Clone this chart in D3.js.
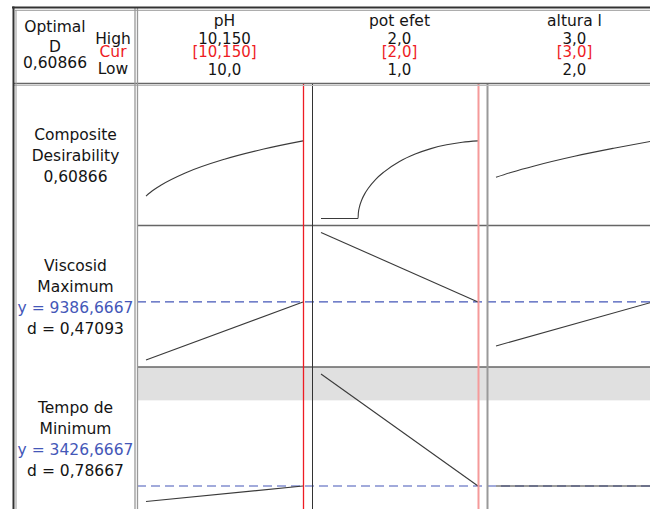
<!DOCTYPE html>
<html>
<head>
<meta charset="utf-8">
<script src="https://cdn.jsdelivr.net/npm/d3@7"></script>
<style>
  body { margin: 0; background: #fff; }
  svg { display: block; font-family: "DejaVu Sans", Verdana, sans-serif; }
</style>
</head>
<body>
<svg id="chart" width="650" height="509"></svg>
<script>
// ---- Factors (columns) ----
const factorNames = ["pH", "pot efet", "altura l"];
const factorLow = [10.0, 1.0, 2.0];
const factorHigh = [10.15, 2.0, 3.0];
const factorCur = [10.15, 2.0, 3.0];
const factorHighLabels = ["10,150", "2,0", "3,0"];
const factorCurLabels = ["[10,150]", "[2,0]", "[3,0]"];
const factorLowLabels = ["10,0", "1,0", "2,0"];

// ---- Composite desirability traces, one per factor ----
const compositeD = 0.60866;
const compositePHx = [10.0, 10.00375, 10.0075, 10.015, 10.0375, 10.075, 10.1125, 10.15];
const compositePH = [0.176, 0.202, 0.226, 0.265, 0.357, 0.465, 0.545, 0.60866];
const compositePotX = [1.0, 1.236, 1.238, 1.245, 1.26, 1.28, 1.30, 1.35, 1.40, 1.50, 1.60, 1.70, 1.80, 1.90, 2.0];
const compositePot = [0, 0, 0.045, 0.091, 0.147, 0.197, 0.235, 0.309, 0.364, 0.447, 0.505, 0.548, 0.578, 0.598, 0.60866];
const compositeAltX = [2.0, 2.1, 2.25, 2.5, 2.75, 3.0];
const compositeAlt = [0.324, 0.363, 0.414, 0.488, 0.551, 0.60866];

// ---- Viscosity (maximize): predicted value at factor low / high ----
const viscosityCur = 9386.6667;
const viscosityDesir = 0.47093;
const viscosityAtLow = [8226.67, 10772.67, 8506.67];
const viscosityAtHigh = [9386.6667, 9386.6667, 9386.6667];

// ---- Tempo (minimize): predicted value at factor low / high ----
const tempoCur = 3426.6667;
const tempoDesir = 0.78667;
const tempoAtLow = [3272.67, 4542.67, 3426.6667];
const tempoAtHigh = [3426.6667, 3426.6667, 3426.6667];
const tempoUpper = 4280;

// ---- Layout ----
const W = 650, H = 509;
const frameL = 14, frameT = 8;
const labelCx = 75.5;
const headerBottom = 84;
const colX0 = 137, colW = 175;
const rowTops = [84, 225.5, 367];
const rowH = 141.5;
const padX = 9, padY = 7;
const txt = "#141414", red = "#ee1c24", blue = "#4457b8", traceColor = "#3a3a3a";

const commaFmt = (f) => (v) => d3.format(f)(v).replace(".", ",");
const fmt4 = commaFmt(".4f"), fmt5 = commaFmt(".5f");

const svg = d3.select("#chart");
svg.append("rect").attr("width", W).attr("height", H).attr("fill", "#fff");

const xScales = factorNames.map((_, i) =>
  d3.scaleLinear().domain([factorLow[i], factorHigh[i]])
    .range([colX0 + i * colW + padX, colX0 + (i + 1) * colW - padX]));

const yRange = (r) => [rowTops[r] + rowH - padY, rowTops[r] + padY];
const yComp = d3.scaleLinear().domain([0, 1]).range(yRange(0));
const yVisc = d3.scaleLinear()
  .domain(d3.extent(viscosityAtLow.concat(viscosityAtHigh))).range(yRange(1));
const yTempo = d3.scaleLinear()
  .domain(d3.extent(tempoAtLow.concat(tempoAtHigh))).range(yRange(2));

const plotRight = colX0 + 3 * colW;

// Shaded region: tempo above its upper limit (desirability zero)
svg.append("rect")
  .attr("x", colX0).attr("y", rowTops[2])
  .attr("width", plotRight - colX0)
  .attr("height", yTempo(tempoUpper) - rowTops[2])
  .attr("fill", "#e0e0e0");

// Current response levels (dashed)
[[yVisc, viscosityCur], [yTempo, tempoCur]].forEach(([ys, v]) => {
  svg.append("line")
    .attr("x1", colX0).attr("x2", plotRight)
    .attr("y1", ys(v)).attr("y2", ys(v))
    .attr("stroke", blue).attr("stroke-width", 1.1)
    .attr("stroke-dasharray", "9,5");
});

// Composite desirability curves
const compX = [compositePHx, compositePotX, compositeAltX];
const compY = [compositePH, compositePot, compositeAlt];
compX.forEach((xs, i) => {
  const line = d3.line()
    .x(d => xScales[i](d[0])).y(d => yComp(d[1]))
    .curve(d3.curveMonotoneX);
  svg.append("path")
    .attr("d", line(xs.map((x, k) => [x, compY[i][k]])))
    .attr("fill", "none").attr("stroke", traceColor).attr("stroke-width", 1.1);
});

// Response traces (linear)
const drawTrace = (ys, lows, highs) => {
  factorNames.forEach((_, i) => {
    const line = d3.line().x(d => xScales[i](d[0])).y(d => ys(d[1]));
    svg.append("path")
      .attr("d", line([[factorLow[i], lows[i]], [factorHigh[i], highs[i]]]))
      .attr("fill", "none").attr("stroke", traceColor).attr("stroke-width", 1.1);
  });
};
drawTrace(yVisc, viscosityAtLow, viscosityAtHigh);
drawTrace(yTempo, tempoAtLow, tempoAtHigh);

// Grid: row separators and column borders
[rowTops[1], rowTops[2]].forEach(y => {
  svg.append("line").attr("x1", colX0).attr("x2", W).attr("y1", y).attr("y2", y)
    .attr("stroke", "#666").attr("stroke-width", 1.5);
});
svg.append("line").attr("x1", colX0 + colW + 0.5).attr("x2", colX0 + colW + 0.5)
  .attr("y1", headerBottom).attr("y2", H).attr("stroke", "#333").attr("stroke-width", 1);
svg.append("line").attr("x1", colX0 + 2 * colW + 0.5).attr("x2", colX0 + 2 * colW + 0.5)
  .attr("y1", headerBottom).attr("y2", H).attr("stroke", "#999").attr("stroke-width", 2);

// Current factor settings (red verticals)
const redStyles = [{ c: red, w: 1.3 }, { c: "#f59a9a", w: 2 }, { c: "#f59a9a", w: 2 }];
factorCur.forEach((v, i) => {
  const x = Math.round(xScales[i](v)) + 0.5;
  svg.append("line").attr("x1", x).attr("x2", x)
    .attr("y1", headerBottom).attr("y2", H)
    .attr("stroke", redStyles[i].c).attr("stroke-width", redStyles[i].w);
});

// Header text
const text = (x, y, s, color, size) =>
  svg.append("text").attr("x", x).attr("y", y).attr("text-anchor", "middle")
    .attr("fill", color || txt).attr("font-size", size || 15.5).text(s);

text(55, 31.7, "Optimal");
text(55, 51.7, "D");
text(55, 68.3, fmt5(compositeD));
text(113, 43.8, "High");
text(113, 57, "Cur", red);
text(113, 74, "Low");

factorNames.forEach((n, i) => {
  const cx = colX0 + i * colW + colW / 2;
  text(cx, 25.5, n);
  text(cx, 43.5, factorHighLabels[i], txt, 15);
  text(cx, 56.5, factorCurLabels[i], red, 15);
  text(cx, 75, factorLowLabels[i], txt, 15);
});

// Row labels
const rowLabels = [
  [["Composite"], ["Desirability"], [fmt5(compositeD)]],
  [["Viscosid"], ["Maximum"], ["y = " + fmt4(viscosityCur), blue], ["d = " + fmt5(viscosityDesir)]],
  [["Tempo de"], ["Minimum"], ["y = " + fmt4(tempoCur), blue], ["d = " + fmt5(tempoDesir)]]
];
rowLabels.forEach((lines, r) => {
  const n = lines.length;
  lines.forEach((l, k) => {
    text(labelCx, rowTops[r] + 77 + (k - (n - 1) / 2) * 21, l[0], l[1] || txt);
  });
});

// Frame: header separator, label column border, outer double frame
svg.append("line").attr("x1", frameL).attr("x2", W).attr("y1", 83.5).attr("y2", 83.5)
  .attr("stroke", "#666").attr("stroke-width", 1.5);
svg.append("line").attr("x1", frameL).attr("x2", W).attr("y1", 85.5).attr("y2", 85.5)
  .attr("stroke", "#bbb").attr("stroke-width", 1);
[135, 137.5].forEach(x => {
  svg.append("line").attr("x1", x).attr("x2", x).attr("y1", frameT).attr("y2", H)
    .attr("stroke", "#999").attr("stroke-width", 1.3);
});
svg.append("line").attr("x1", frameL - 2).attr("x2", W).attr("y1", 7.5).attr("y2", 7.5)
  .attr("stroke", "#333").attr("stroke-width", 2);
svg.append("line").attr("x1", frameL + 1).attr("x2", W).attr("y1", 10.3).attr("y2", 10.3)
  .attr("stroke", "#999").attr("stroke-width", 1);
svg.append("line").attr("x1", 13.5).attr("x2", 13.5).attr("y1", 6.5).attr("y2", H)
  .attr("stroke", "#333").attr("stroke-width", 2);
svg.append("line").attr("x1", 16).attr("x2", 16).attr("y1", 10).attr("y2", H)
  .attr("stroke", "#999").attr("stroke-width", 1);
</script>
</body>
</html>
